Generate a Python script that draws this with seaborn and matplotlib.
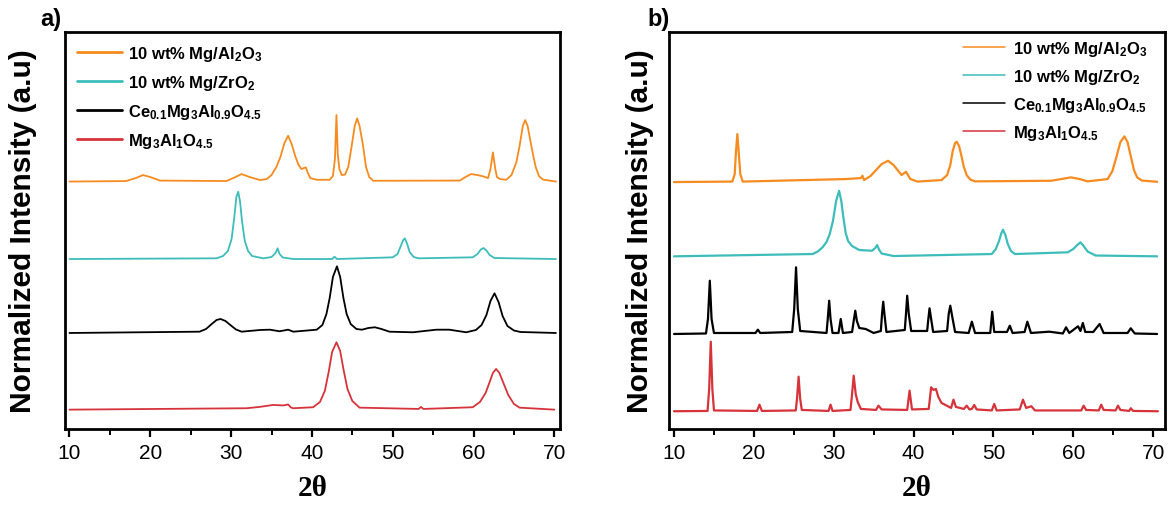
import matplotlib
matplotlib.use("Agg")
import matplotlib.pyplot as plt
import seaborn as sns
from matplotlib.ticker import MultipleLocator
from matplotlib.lines import Line2D

# ---------------- data (2theta in degrees, stacked normalized intensity, a.u.) ----------------
labels = [r"10 wt% Mg/Al$_2$O$_3$", r"10 wt% Mg/ZrO$_2$",
          r"Ce$_{0.1}$Mg$_3$Al$_{0.9}$O$_{4.5}$", r"Mg$_3$Al$_1$O$_{4.5}$"]
colors = ["#F68B1F", "#3DBDBA", "#000000", "#D6333B"]
xticks = [10, 20, 30, 40, 50, 60, 70]

# panel a
a_orange_x = [10.0, 17.0, 18.2, 19.1, 20.0, 21.2, 29.4, 30.4, 31.3, 32.3, 33.6, 34.4, 35.0, 35.6, 36.1,
              36.6, 37.06, 37.5, 37.9, 38.3, 38.7, 39.0, 39.25, 39.5, 39.8, 40.6, 42.2, 42.6, 42.85,
              43.04, 43.2, 43.4, 43.7, 44.1, 44.5, 44.9, 45.3, 45.6, 45.9, 46.3, 46.7, 47.1, 47.6,
              58.3, 59.0, 59.7, 60.5, 61.2, 61.8, 62.1, 62.4, 62.7, 62.9, 63.3, 64.05, 64.7, 65.3, 65.7,
              66.1, 66.4, 66.7, 67.0, 67.4, 67.7, 68.1, 68.6, 70.2]
a_orange_y = [247.5, 248, 251, 254, 252, 248.5, 248, 251.5, 255, 252, 249, 250, 254, 262, 272,
              286, 293.3, 285, 274, 265, 260, 261, 261.7, 256, 251, 249.3, 249.3, 253, 270,
              314, 275, 260, 254, 254.5, 262, 282, 303, 310.7, 303, 285, 262, 252, 248.3,
              248.5, 252, 255, 254, 252.7, 251, 260, 276.7, 260, 252, 250, 249.3, 254, 266.7, 283,
              303, 309, 303, 290, 273, 262, 253, 249.5, 247.5]

a_teal_x = [10.0, 28.2, 29.0, 29.6, 30.06, 30.4, 30.65, 30.88, 31.1, 31.35, 31.7, 32.1, 32.6, 34.0, 35.0,
            35.5, 35.75, 36.0, 36.4, 37.7, 42.5, 42.8, 43.1, 50.0, 50.6, 51.0, 51.3, 51.5, 51.8, 52.1,
            52.6, 53.2, 59.9, 60.5, 60.9, 61.25, 61.6, 62.0, 62.6, 70.2]
a_teal_y = [170, 170.7, 173, 178, 190, 212, 232, 237.3, 228, 208, 188, 178, 173, 170.7, 172,
            176, 180.7, 175, 171.5, 170, 170, 172.3, 170, 171.7, 175, 183, 189, 190.7, 185, 177,
            172, 170.7, 171.7, 175, 179.5, 181, 178.5, 174, 171, 170]

a_black_x = [10.0, 26.1, 26.9, 27.6, 28.2, 28.7, 29.3, 29.9, 30.6, 31.3, 33.6, 34.8, 36.0, 37.06, 37.7,
             40.6, 41.3, 41.8, 42.2, 42.6, 43.1, 43.5, 43.9, 44.3, 44.8, 45.5, 46.2, 47.0, 47.8, 48.6,
             49.6, 52.5, 55.4, 57.0, 59.1, 60.3, 61.0, 61.6, 62.1, 62.6, 63.1, 63.6, 64.2, 65.0, 65.8, 70.2]
a_black_y = [96, 97.3, 100, 105, 109, 110, 108, 104, 99.5, 97.3, 99, 99.3, 97.7, 99.3, 97.3,
             99.3, 104, 115, 131, 152, 162.7, 152, 131, 115, 105, 100, 99.3, 101, 101.7, 100,
             97.3, 96.7, 99.3, 99.3, 96.7, 99, 104, 114, 128, 135.7, 127, 113, 103, 98.5, 97, 96]

a_red_x = [10.0, 31.9, 33.5, 35.2, 36.5, 37.06, 37.4, 37.7, 40.15, 41.0, 41.6, 42.1, 42.5, 43.04, 43.5,
           43.9, 44.4, 45.0, 45.9, 53.2, 53.5, 53.8, 59.9, 60.8, 61.5, 62.0, 62.4, 62.8, 63.2, 63.7,
           64.3, 65.0, 65.7, 70.0]
a_red_y = [19.3, 20.7, 22, 24, 23.5, 24.5, 21.5, 20.7, 21.7, 27, 38, 58, 77, 86.7, 78,
           60, 40, 28, 21.3, 20, 22, 20, 21.7, 27, 36, 47, 56, 60, 56, 46,
           34, 25, 21.3, 19.3]

# panel b
b_orange_x = [10.0, 17.3, 17.6, 17.75, 17.93, 18.1, 18.3, 18.6, 31.5, 33.4, 33.6, 33.8, 34.6, 35.3, 36.0,
              36.8, 37.5, 37.9, 38.5, 39.05, 39.6, 40.5, 43.5, 44.2, 44.6, 44.9, 45.2, 45.4, 45.7, 46.0,
              46.3, 46.65, 47.1, 47.7, 57.2, 58.5, 59.7, 60.8, 61.8, 64.3, 64.9, 65.4, 65.9, 66.4, 66.8,
              67.2, 67.6, 68.0, 68.6, 70.5]
b_orange_y = [247, 247.5, 255, 276.7, 295, 276.7, 255, 247.5, 250, 251, 253.3, 249, 253, 259, 265,
              268.3, 264, 260, 254, 257.3, 250, 247.5, 249, 254, 264, 278, 286, 287.3, 283, 273,
              262, 254, 249.5, 247.7, 248.3, 250, 251.7, 250, 247.7, 250, 258, 272, 287, 292.7, 287,
              273, 259, 251.7, 248.5, 247.3]

b_teal_x = [10.0, 27.35, 28.0, 28.6, 29.1, 29.5, 29.9, 30.3, 30.67, 30.95, 31.2, 31.5, 31.8, 32.3, 33.2,
            34.8, 35.2, 35.44, 35.7, 36.0, 37.5, 49.8, 50.3, 50.7, 51.0, 51.2, 51.5, 51.8, 52.2, 52.7,
            59.3, 60.0, 60.5, 60.9, 61.3, 61.8, 62.8, 70.5]
b_teal_y = [172.7, 175, 177.5, 181.7, 187, 195, 208, 228, 238.3, 228, 212, 196, 188, 183, 179,
            178.3, 181, 184, 179, 175.5, 173, 175, 180, 188, 196, 199.3, 194, 185, 178, 175,
            176.7, 180, 184, 186.7, 183, 177.5, 173.5, 172.7]

b_black_x = [10.0, 14.0, 14.25, 14.48, 14.7, 15.0, 20.2, 20.5, 20.8, 24.8, 25.05, 25.28, 25.5, 25.8,
             29.1, 29.25, 29.43, 29.6, 29.85, 30.6, 30.88, 31.15, 32.3, 32.5, 32.7, 32.9, 33.2, 34.0, 35.0,
             35.9, 36.05, 36.2, 36.35, 36.6, 38.9, 39.05, 39.2, 39.4, 39.7, 41.7, 41.85, 42.0, 42.2, 42.45,
             44.2, 44.4, 44.6, 44.85, 45.2, 46.9, 47.3, 47.7, 49.6, 49.85, 50.1, 51.7, 52.05, 52.4,
             53.9, 54.25, 54.7, 57.0, 58.7, 59.1, 59.5, 60.6, 60.9, 61.2, 61.5, 62.5, 63.3, 63.8,
             66.8, 67.2, 67.7, 70.5]
b_black_y = [95, 95.5, 110, 148.3, 110, 96, 96, 99.3, 96, 97, 120, 161.7, 120, 98,
             96, 110, 128.3, 110, 96, 96, 110, 96, 97, 108, 118.3, 108, 101, 100, 96,
             98, 115, 127.3, 115, 97, 99, 115, 133.3, 115, 98, 98, 110, 120.7, 110, 97,
             98, 115, 123.3, 112, 97, 96, 107.3, 96, 96, 117.3, 97, 97, 103.3, 96,
             97, 107.3, 96, 97.3, 95.5, 101.7, 96, 102.7, 98, 106, 97, 97, 105, 96,
             96, 100.7, 95.5, 95]

b_red_x = [10.0, 14.2, 14.4, 14.6, 14.8, 15.0, 20.4, 20.7, 21.0, 25.25, 25.4, 25.6, 25.8, 26.0,
           29.35, 29.6, 29.85, 32.1, 32.3, 32.5, 32.75, 33.0, 33.4, 35.3, 35.6, 36.0, 39.2, 39.5, 39.8,
           41.9, 42.2, 42.5, 42.8, 43.1, 43.5, 44.7, 45.0, 45.3, 46.3, 46.65, 47.0, 47.3, 47.6, 47.9,
           49.8, 50.1, 50.4, 53.3, 53.7, 54.1, 54.75, 55.2, 61.0, 61.3, 61.6, 63.2, 63.5, 63.8,
           65.3, 65.6, 65.9, 67.0, 67.2, 67.5, 70.6]
b_red_y = [17.7, 18, 40, 87.3, 40, 18.5, 18, 24.3, 18, 18.5, 30, 52.3, 30, 19,
           18, 24.3, 18, 19, 35, 53.3, 35, 27, 20, 19, 23.3, 19.5, 19, 38.3, 19.5,
           20, 41.7, 39, 40, 32, 26, 21, 29.3, 22, 20, 23.3, 19.5, 20, 24, 19.5,
           18.5, 25, 18.5, 19.5, 29.3, 21, 22.7, 18.5, 18.5, 23.3, 19, 18.5, 24.3, 19,
           18.5, 23.3, 19, 18, 20.7, 18, 17.7]

# ---------------- style ----------------
sns.set_style("ticks")
plt.rcParams["font.family"] = ["Liberation Sans", "DejaVu Sans"]
plt.rcParams["mathtext.fontset"] = "custom"
plt.rcParams["mathtext.rm"] = "Liberation Sans"
plt.rcParams["mathtext.bf"] = "Liberation Sans:bold"
plt.rcParams["mathtext.default"] = "bf"
plt.rcParams["text.color"] = "black"
plt.rcParams["axes.labelcolor"] = "black"
plt.rcParams["xtick.color"] = "black"
plt.rcParams["ytick.color"] = "black"

fig = plt.figure(figsize=(11.7, 5.1), dpi=100)
ax_a = fig.add_axes([0.0556, 0.157, 0.423, 0.778])
ax_b = fig.add_axes([0.5718, 0.157, 0.424, 0.778])

series_a = [(a_orange_x, a_orange_y), (a_teal_x, a_teal_y), (a_black_x, a_black_y), (a_red_x, a_red_y)]
series_b = [(b_orange_x, b_orange_y), (b_teal_x, b_teal_y), (b_black_x, b_black_y), (b_red_x, b_red_y)]

for ax, series, lw, xlim, ypad in [(ax_a, series_a, 1.3, (9.45, 70.7), 20),
                                   (ax_b, series_b, 1.6, (9.37, 71.5), 11)]:
    for (xs, ys), c in zip(series, colors):
        sns.lineplot(x=xs, y=ys, ax=ax, color=c, lw=lw, estimator=None, sort=False, legend=False)
    ax.set_xlim(*xlim)
    ax.set_ylim(0, 397)
    ax.set_xticks(xticks)
    ax.xaxis.set_minor_locator(MultipleLocator(5))
    ax.set_yticks([])
    ax.tick_params(axis="x", which="major", direction="out", length=6, width=1.6,
                   labelsize=15, pad=4, top=False, colors="black")
    ax.tick_params(axis="x", which="minor", direction="out", length=4, width=1.4, top=False,
                   colors="black")
    for sp in ax.spines.values():
        sp.set_linewidth(2.0)
        sp.set_color("black")
    ax.set_ylabel("Normalized Intensity (a.u)", fontsize=21.5, fontweight="bold", labelpad=ypad,
                  color="black")
    ax.set_xlabel("2θ", fontsize=21, fontweight="bold", family="Liberation Serif", labelpad=9,
                  color="black")

# legends
handles_a = [Line2D([], [], color=c, lw=2.0) for c in colors]
ax_a.legend(handles_a, labels, loc="upper left", bbox_to_anchor=(0.0, 1.0), frameon=False,
            prop={"weight": "bold", "size": 12}, handlelength=2.7, handletextpad=0.4,
            labelspacing=0.6, borderaxespad=0.3, borderpad=0.4, labelcolor="black")
handles_b = [Line2D([], [], color=c, lw=1.1) for c in colors]
ax_b.legend(handles_b, labels, loc="upper left", bbox_to_anchor=(0.58, 1.0), frameon=False,
            prop={"weight": "bold", "size": 12}, handlelength=2.5, handletextpad=0.5,
            labelspacing=0.55, borderaxespad=0.1, borderpad=0.3, labelcolor="black")

fig.text(0.034, 0.962, "a)", fontsize=17, fontweight="bold", ha="left", va="center", color="black")
fig.text(0.553, 0.962, "b)", fontsize=17, fontweight="bold", ha="left", va="center", color="black")

fig.savefig("out.png", dpi=100)
